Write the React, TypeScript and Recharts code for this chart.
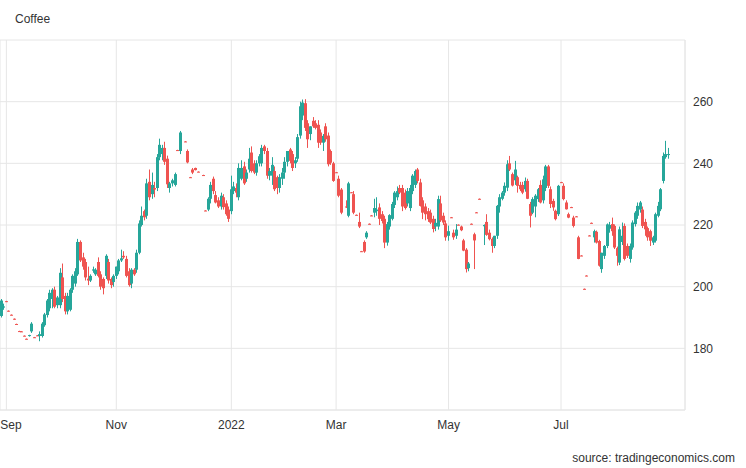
import { ComposedChart, Bar, XAxis, YAxis, CartesianGrid } from "recharts";

type Row = [number, number, number, number] | null; // open, high, low, close

const aug21: Row[] = [
  [190.5, 196, 190, 195.5], [193.2, 194.5, 192.5, 193.6],
];
const sep21: Row[] = [
  [195.3, 195.4, 195, 195.1], [192.2, 192.3, 191.9, 192], [190.9, 191, 190.7, 190.8],
  [189.6, 189.7, 189.3, 189.4], [187.9, 188, 187.7, 187.8], [185.6, 185.7, 185.4, 185.5],
  [185.5, 185.6, 185.3, 185.4], [184.1, 184.2, 183.9, 184], [183.1, 183.2, 182.9, 183],
  [184, 184.4, 183.8, 184.3], [185.5, 188.5, 185, 188], [183.6, 183.7, 183.4, 183.5],
  [184.2, 184.3, 184, 184.1], [184, 185.5, 182.3, 184.6], [184, 188.5, 183.5, 188],
  [187.5, 191.5, 187, 191], [190.8, 196, 190, 195.5], [193, 199, 192, 198],
  [196, 199.5, 193, 199], [199, 200, 193, 193.5], [194, 197, 193, 196.5],
  [194, 206, 193, 204.5],
];
const oct21: Row[] = [
  [203, 207.5, 195, 196], [197, 198, 191, 192], [192, 198, 191, 197],
  [192.5, 199.5, 192, 199], [199, 204, 198, 203.5], [201, 206, 200, 205],
  [204, 215.5, 203.5, 214.5], [214.5, 215, 208, 208.5], [209.5, 211, 205.5, 206.5],
  [208, 209, 202, 203], [202.6, 206.5, 200.5, 202], [202, 204, 201.5, 203.5],
  [205.2, 206.5, 204.5, 205.6], [204, 206, 203.5, 205.5], [208, 209.5, 203, 203.5],
  [204, 205, 199, 200], [202.5, 203, 197.5, 199.5], [203.5, 210.5, 202.5, 210],
  [208, 209, 201, 202], [202.5, 203, 199.5, 200.5], [201.5, 204, 200, 203.5],
];
const nov21: Row[] = [
  [203.5, 206.5, 202.5, 206.5], [205, 209, 204, 208.5], [208.5, 212, 208, 209.2],
  [210, 211.5, 209, 209.5], [209, 210, 203, 203.5], [205, 206, 200, 200.5],
  [201, 206, 199.5, 205.5], [205.5, 206, 203.5, 204], [205.5, 212, 204.5, 211],
  [211, 221.5, 210.5, 220.5], [220, 226, 219.5, 223], [224.5, 225, 221.5, 222.5],
  [223, 235, 222, 233.5], [234, 238, 228, 229], [230, 237, 228.5, 233],
  [232, 234, 229, 231.5], [232, 243, 231, 242], [242, 248, 241, 246],
  [243, 246, 241, 245], [245, 247, 239.5, 240.5], [241.5, 242.5, 232, 233.2],
  [232, 234, 230.5, 233.5],
];
const dec21: Row[] = [
  [233.5, 235, 232.5, 234.5], [233, 237, 232.5, 236.5], [244.3, 244.4, 244.1, 244.2],
  [244, 250.5, 243, 250], null, [247.1, 247.2, 246.9, 247],
  [244, 244.5, 240, 240.3], [235.5, 235.6, 235.3, 235.4], [238, 238.5, 236.5, 237],
  [238.5, 238.6, 237.7, 237.8], [237.3, 237.4, 237.1, 237.2], null,
  [236.2, 236.3, 236, 236.1], [224.7, 224.8, 224.5, 224.6], [225, 229, 224.5, 228.5],
  [228.5, 234, 227, 233], [235, 235.7, 230, 231], [229.7, 231, 227, 227.3],
  [228, 229, 225.5, 226], [226, 230.5, 225, 229.5], [229, 230, 225, 225.8],
  [227, 228, 223, 223.5], [225, 226, 221, 222],
];
const jan22: Row[] = [
  [224.5, 236, 223.5, 231.6], [231, 234, 230, 232.5], [232, 233.5, 229, 230.5],
  [229, 240, 228, 238.5], [235, 241, 234.5, 238.5], [239, 240.5, 233, 233.5],
  [235, 238, 234, 237], [238, 245, 237, 241.5], [243.5, 245.5, 237, 237.5],
  [240, 241, 236.5, 237], [237, 241, 236, 240], [240, 243, 239, 242.3],
  [240, 246, 239, 245], [245.5, 246, 243, 244], [244, 245, 235, 236],
  [236, 238.5, 234.5, 237.5], [236, 242, 233, 239.5], [237.5, 239, 231, 231.6],
  [235.5, 236, 230, 232], [232, 236.5, 230.5, 235.5], [235, 238.5, 233, 237],
];
const feb22: Row[] = [
  [237, 242, 235, 240.5], [240.5, 244, 239, 244], [244.5, 245, 240, 240.8],
  [243, 244, 237.5, 238.5], [240, 242, 238.5, 241], [241.5, 249.5, 240.5, 248.5],
  [249, 260, 248, 258.5], [255.5, 260.7, 254, 259.7], [259.5, 260.8, 250.5, 251.5],
  [253, 254, 245, 247.8], [249.5, 252, 247.5, 252], [253.8, 255, 251.5, 252],
  [253, 254, 251, 251.5], [252.5, 254, 245, 246.7], [250, 251, 246, 246.7],
  [246.7, 249.5, 244, 248.9], [252, 253, 247, 247.8], [249, 250, 239, 239.7],
  [244, 244.5, 239.5, 240.2], [240, 240.5, 234, 234.3],
];
const mar22: Row[] = [
  [237.1, 237.2, 236.9, 237], [235, 236, 229, 229.5], [231.5, 232, 223.5, 224],
  null, [226, 228, 225.5, 225.8], [223, 234, 222.5, 233.5],
  [230.6, 230.7, 230.4, 230.5], [230, 231, 223.5, 224], [223.3, 223.4, 223.1, 223.2],
  [221, 224, 219, 219.5], [211.5, 211.6, 211.3, 211.4], [214.5, 215, 211, 211.4],
  [216, 218, 215.5, 217.5], [220.4, 220.5, 220.2, 220.3], [223.1, 223.2, 222.9, 223],
  [224, 228.5, 222.5, 225.5], [224.5, 229, 223, 225], [225.7, 227, 220, 222],
  [223.5, 224.5, 220.5, 221.3], [222, 223, 212.5, 214.3], [214.3, 221, 213.3, 220.3],
  [219.5, 223.5, 218.5, 223.2], [222, 227.5, 221.5, 226.8],
];
const apr22: Row[] = [
  [226.5, 231, 225.5, 230.5], [229, 232.5, 228, 231], [232, 233, 230, 230.5],
  [232, 233, 224.5, 226], [230.5, 231.5, 225, 225.5], [227, 232, 226, 231],
  [225.5, 233, 224.5, 232], [231, 236.5, 230, 236], [233, 238, 232, 237.5],
  [238, 238.5, 233.5, 234.3], [233.8, 235, 226, 226.2], [228, 229, 221.9, 224],
  [226, 227, 221.5, 223.5], [224.5, 225.5, 221, 221.9], [224, 225, 220.3, 220.8],
  [222, 223, 217.6, 218.7], [219.5, 222, 218, 220.7], [219.5, 229.5, 218.5, 228.4],
  [227, 229.5, 221, 221.5], [223, 224, 220, 220.8], [220.5, 221.5, 214.9, 216],
];
const may22: Row[] = [
  [216.5, 219.8, 214.9, 218], [222.5, 222.6, 222.3, 222.4], [217.5, 218.5, 215.2, 216],
  [216.5, 220.3, 215.5, 218.5], [220.1, 220.2, 219.9, 220], [219.5, 219.8, 218, 218.3],
  [215, 215.5, 211.5, 211.7], [212, 212.5, 204.6, 205.7], [206, 208, 205, 207.5],
  [220.4, 220.5, 220.2, 220.3], [217, 217.5, 205.7, 215], [224.1, 224.2, 223.9, 224],
  [228.5, 228.6, 228.3, 228.4], null, [219.6, 220.2, 213.5, 220],
  [221, 223.5, 216.5, 216.8], [217.5, 218.5, 215, 215.4], [215.5, 216, 211, 213.2],
  [213.2, 216.5, 212.5, 216.5], [216.5, 226.5, 215.5, 226.2], [226, 230, 224, 229],
  [228.5, 231, 228, 230.5],
];
const jun22: Row[] = [
  [230.5, 233.8, 229.5, 232.7], [232.1, 241, 231, 239.7], [240, 242.4, 237.5, 238],
  [236.5, 237, 232.5, 232.8], [234.5, 240.8, 233, 238], [235.5, 236, 230.5, 232.7],
  [233, 234, 231, 231.6], [233, 234, 230, 230.5], [231.6, 235.4, 230.8, 234.3],
  [234.3, 235, 228.4, 228.5], [226.8, 227.5, 219.2, 223], [224, 229, 223.5, 228.4],
  [226, 230, 222.5, 229.5], [228.4, 232, 227.5, 231.6], [233, 234.5, 227, 227.3],
  [228, 236, 227, 234.8], [232, 239.5, 231, 239], [239, 239.5, 232, 232.7],
  [231.6, 232.5, 225.5, 226.8], [227.8, 228.5, 224.6, 225.7], [224.6, 225, 221.5, 221.9],
  [223.5, 233, 222.9, 232.7],
];
const jul22: Row[] = [
  [233.9, 234, 233.7, 233.8], [232.7, 233.5, 228, 228.4], [227.3, 228, 225, 225.1],
  [223.5, 224, 222.2, 222.4], [225.8, 225.9, 225.6, 225.7], [222.4, 223, 219.2, 219.7],
  [222.8, 222.9, 222.6, 222.7], [216, 216.5, 208.9, 209], [210.1, 210.2, 209.9, 210],
  [199.3, 199.4, 199.1, 199.2], [203.6, 203.7, 203.4, 203.5], [216.6, 216.7, 216.4, 216.5],
  [220.7, 220.8, 220.5, 220.6], [216, 218.5, 214.3, 218], [217.8, 218.2, 214, 214.3],
  [214.8, 215.2, 206.5, 206.8], [205.7, 211, 204.5, 211], [210, 213.5, 209, 213.2],
  [213.2, 220.5, 212.5, 220.2], [218.8, 221, 217.5, 220], [220.3, 222.4, 216.5, 218],
];
const aug22: Row[] = [
  [219.7, 220.2, 212.2, 212.7], [212.5, 213, 206.8, 210], [207.8, 219.5, 207, 218.6],
  [214.5, 220.8, 213.5, 216.5], [219.7, 220.5, 208.5, 209], [213.2, 214, 209.3, 210],
  [209, 214, 207.8, 213.2], [212.7, 221.5, 212, 220.8], [220.3, 224.5, 219.5, 224],
  [223, 227.3, 222, 226.2], [225, 227.8, 224, 227.3], [225, 226, 219, 219.7],
  [221, 222, 216.5, 218.6], [219, 219.5, 214.9, 216], [218, 218.5, 213.2, 214.9],
  [214.3, 216.5, 213.5, 216], [214.9, 224, 214.3, 223.5], [223, 227.5, 222.5, 226.2],
  [225.1, 232, 224.5, 231.6], [234.3, 243.5, 233.5, 242.4], [242, 247.3, 241.5, 243],
  [242.8, 245, 241.5, 243],
];

const tickDates = ["2021-09-01", "2021-11-01", "2022-01-03", "2022-03-01", "2022-05-02", "2022-07-01"];
const tickLabels = ["Sep", "Nov", "2022", "Mar", "May", "Jul"];
const yTicks = [160, 180, 200, 220, 240, 260, 280];

const Y_MIN = 160;
const Y_MAX = 280;
const SLOTS = 268; // weekdays shown on the axis, incl. empty room at the right
const UP = "#26a69a";
const DOWN = "#ef5350";
const GRID = "#e6e6e6";
const FONT = "'Liberation Sans', Arial, sans-serif";

// weekday dates from 30 Aug 2021
function weekdays(n: number) {
  const out: string[] = [];
  const d = new Date(Date.UTC(2021, 7, 30));
  while (out.length < n) {
    const wd = d.getUTCDay();
    if (wd !== 0 && wd !== 6) out.push(d.toISOString().slice(0, 10));
    d.setUTCDate(d.getUTCDate() + 1);
  }
  return out;
}

const rows: Row[] = [aug21, sep21, oct21, nov21, dec21, jan22, feb22, mar22, apr22, may22, jun22, jul22, aug22].flat();

const data = weekdays(SLOTS).map((date, i) => {
  const r = rows[i];
  return r ? { date, open: r[0], high: r[1], low: r[2], close: r[3] } : { date };
});

const Candle = (props: any) => {
  const { x, y, width, height, payload } = props;
  if (payload == null || payload.high == null || !height) return null;
  const { open, high, low, close } = payload;
  // bar runs from high down to the axis minimum, so this is the y scale
  const ppu = height / (high - Y_MIN);
  const py = (v: number) => y + (high - v) * ppu;
  const color = close >= open ? UP : DOWN;
  const cx = Math.floor(x + width / 2);
  const top = py(Math.max(open, close));
  const bh = Math.max(1, py(Math.min(open, close)) - top);
  return (
    <g>
      <line x1={cx + 0.5} x2={cx + 0.5} y1={py(high)} y2={py(low)} stroke={color} strokeWidth={1} />
      <rect x={cx - 1} y={top} width={3} height={bh} fill={color} />
    </g>
  );
};

const XTick = (props: any) => {
  const { x, y, payload } = props;
  const idx = tickDates.indexOf(payload.value);
  return (
    <text x={Math.max(x, 11)} y={y} dy="0.71em" textAnchor="middle" fill="#333" fontSize={12} fontFamily={FONT}>
      {tickLabels[idx]}
    </text>
  );
};

const YTick = (props: any) => {
  const { x, y, payload } = props;
  if (payload.value === Y_MIN || payload.value === Y_MAX) return <g />;
  return (
    <text x={x} y={y} dy="0.355em" textAnchor="start" fill="#333" fontSize={12} fontFamily={FONT}>
      {payload.value}
    </text>
  );
};

export default function App() {
  return (
    <div style={{ position: "absolute", left: 0, top: 0, width: 746, height: 468, background: "#fff" }}>
      <div style={{ position: "absolute", left: 15, top: 12, fontSize: 12, fontFamily: FONT, color: "#333" }}>Coffee</div>
      <ComposedChart width={746} height={468} data={data} margin={{ top: 40, right: 0, bottom: 0, left: 0 }}>
        <CartesianGrid stroke={GRID} />
        <XAxis
          dataKey="date"
          ticks={tickDates}
          interval={0}
          tick={<XTick />}
          tickLine={false}
          axisLine={{ stroke: GRID }}
          tickMargin={4}
          height={58}
        />
        <YAxis
          orientation="right"
          domain={[Y_MIN, Y_MAX]}
          ticks={yTicks}
          tick={<YTick />}
          tickLine={false}
          axisLine={{ stroke: GRID }}
          width={61}
        />
        <Bar dataKey="high" shape={<Candle />} isAnimationActive={false} />
      </ComposedChart>
      <div style={{ position: "absolute", right: 11, top: 451, fontSize: 12, fontFamily: FONT, color: "#333" }}>
        source: tradingeconomics.com
      </div>
    </div>
  );
}
